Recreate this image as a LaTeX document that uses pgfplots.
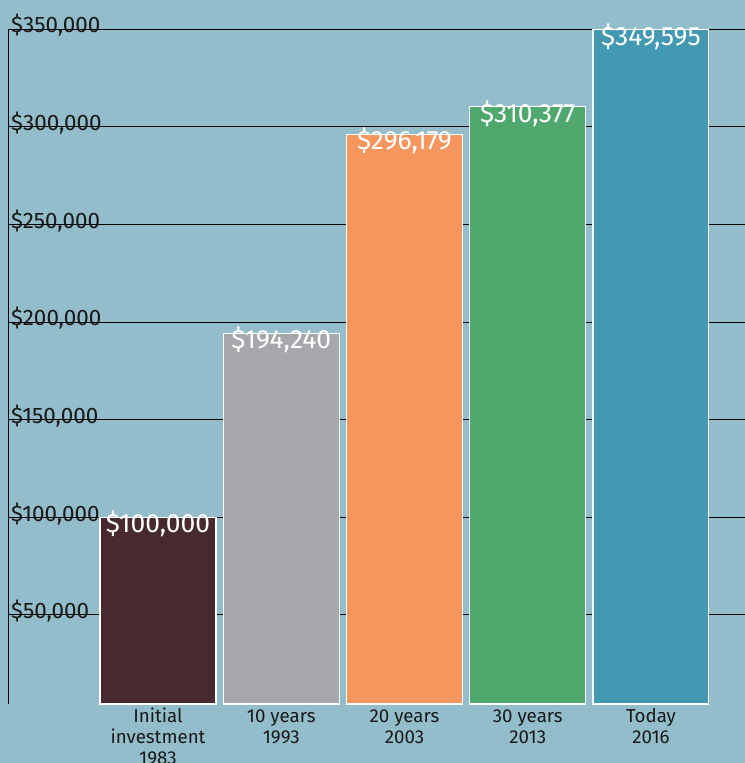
\documentclass[border=0pt]{standalone}
\usepackage{pgfplots}
\pgfplotsset{compat=1.18}
\usepackage{fontspec}
\setmainfont{Fira Sans}
\definecolor{bgc}{RGB}{147,189,202}
\definecolor{c1}{RGB}{71,42,45}
\definecolor{c2}{RGB}{167,168,171}
\definecolor{c3}{RGB}{245,150,95}
\definecolor{c4}{RGB}{80,168,111}
\definecolor{c5}{RGB}{67,152,178}
\begin{document}
\begin{tikzpicture}
\fill[bgc] (-8bp,-59bp) rectangle (737bp,704bp);
\begin{axis}[
  at={(0,0)}, anchor=south west,
  scale only axis,
  width=737bp, height=675bp,
  xmin=-1.217, xmax=4.763,
  ymin=4400, ymax=350000,
  scaled y ticks=false,
  ybar, bar shift=0pt, bar width=0.94,
  axis x line*=bottom, axis y line*=left,
  x axis line style={draw=none},
  y axis line style={black, line width=0.9pt, -},
  major tick length=0pt,
  xtick={0,1,2,3,4},
  xticklabels={{Initial\\investment\\1983},{10 years\\1993},{20 years\\2003},{30 years\\2013},{Today\\2016}},
  typeset ticklabels with strut,
  xticklabel style={align=center, font=\fontsize{18.8}{21}\selectfont, text=black!90, inner sep=1pt, yshift=-3bp},
  ytick={50000,100000,150000,200000,250000,300000,350000},
  yticklabels={{\$50,000},{\$100,000},{\$150,000},{\$200,000},{\$250,000},{\$300,000},{\$350,000}},
  yticklabel style={anchor=west, xshift=3bp, yshift=1.5bp, inner sep=0pt, font=\fontsize{22.5}{26}\selectfont, text=black!90},
  ymajorgrids,
  grid style={black, line width=0.9pt},
  point meta=explicit symbolic,
  nodes near coords,
  every node near coord/.append style={anchor=center, yshift=-7bp, text=white, font=\fontsize{26.5}{28}\selectfont},
  clip=false,
]
\addplot[fill=c1, draw=white, line width=1.2pt] coordinates {(0,100000) [\$100,000]};
\addplot[fill=c2, draw=white, line width=1.2pt] coordinates {(1,194240) [\$194,240]};
\addplot[fill=c3, draw=white, line width=1.2pt] coordinates {(2,296179) [\$296,179]};
\addplot[fill=c4, draw=white, line width=1.2pt] coordinates {(3,310377) [\$310,377]};
\addplot[fill=c5, draw=white, line width=1.2pt] coordinates {(4,349595) [\$349,595]};
\end{axis}
\pgfresetboundingbox
\path (-8bp,-59bp) rectangle (737bp,704bp);
\end{tikzpicture}
\end{document}
